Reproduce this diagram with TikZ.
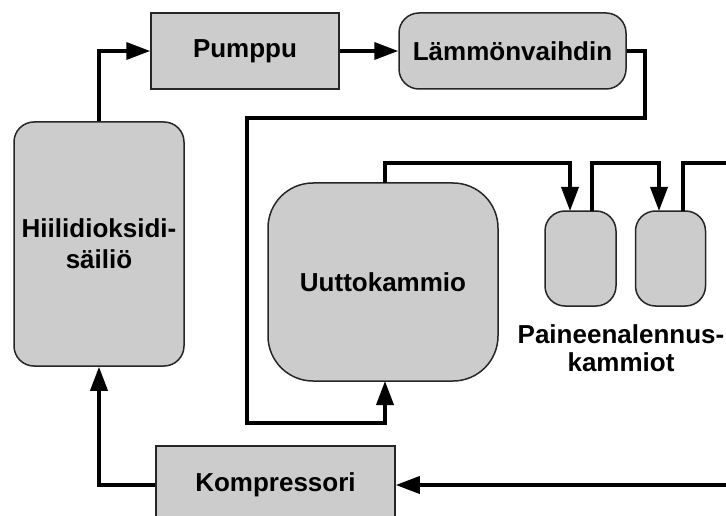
\documentclass[tikz,border=0pt]{standalone}
\usepackage{fontspec}
\setmainfont{Liberation Sans}
\usetikzlibrary{arrows.meta}
\definecolor{boxgray}{RGB}{204,204,204}
\begin{document}
\begin{tikzpicture}[x=1pt,y=-1pt,
  box/.style={draw=black!85, line width=1.5pt, fill=boxgray, inner sep=0pt,
    font=\fontsize{26}{31}\selectfont\bfseries, align=center},
  sqbox/.style={box},
  rbox/.style={box, rounded corners=#1},
  lbl/.style={font=\fontsize{26}{28}\selectfont\bfseries, align=center, inner sep=0pt},
  flow/.style={line width=3.6pt, -{Triangle[length=24pt,width=17pt]}},
  line/.style={line width=3.6pt}]
\useasboundingbox (0,0) rectangle (726,516);
\clip (0,0) rectangle (726,516);
\fill[white] (0,0) rectangle (726,516);

\node[sqbox, minimum width=188pt, minimum height=76pt] (pump) at (245,51) {Pumppu};
\node[rbox=20pt, minimum width=227pt, minimum height=76pt] (hx) at (512.5,51) {Lämmönvaihdin};
\node[rbox=20pt, minimum width=170pt, minimum height=244pt] (tank) at (99,244) {Hiilidioksidi-\\säiliö};
\node[rbox=45pt, minimum width=230pt, minimum height=198pt] (ext) at (383,282) {Uuttokammio};
\node[rbox=20pt, minimum width=71pt, minimum height=95pt] (ch1) at (580.5,258.5) {};
\node[rbox=20pt, minimum width=70pt, minimum height=95pt] (ch2) at (670.5,258.5) {};
\node[lbl] (chlbl) at (621,348) {Paineenalennus-\\kammiot};
\node[sqbox, minimum width=239pt, minimum height=78pt] (comp) at (275.5,485) {Kompressori};

\coordinate (outR) at (740,163);
\coordinate (inR) at (740,485);

% tank -> pump
\draw[flow] (tank.north) |- (pump.west);
% pump -> hx
\draw[flow] (pump.east) -- (hx.west);
% hx -> extraction chamber
\draw[flow] (hx.east) -- (645,51) -- (645,118) -- (247,118) -- (247,423) -- (385,423) -- (385,381);
% extraction -> chamber 1
\draw[flow] (385,183) -- (385,163) -- (570,163) -- (570,211);
% chamber 1 -> chamber 2
\draw[flow] (592,211) -- (592,163) -- (659,163) -- (659,211);
% chamber 2 -> out
\draw[line] (683,211) -- (683,163) -- (outR);
% return -> compressor
\draw[flow] (inR) -- (comp.east);
% compressor -> tank
\draw[flow] (comp.west) -| (tank.south);
\end{tikzpicture}
\end{document}
